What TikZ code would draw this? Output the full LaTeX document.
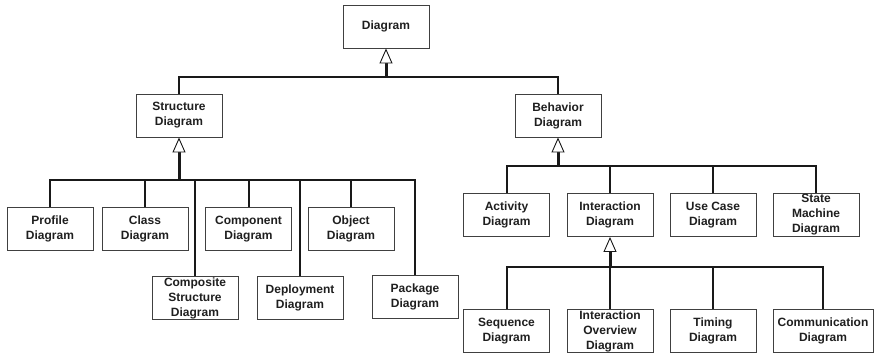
\documentclass[tikz,border=0pt]{standalone}
\usepackage{fontspec}
\setmainfont{Liberation Sans}
\usetikzlibrary{arrows.meta}
\begin{document}
\begin{tikzpicture}[x=1pt,y=-1pt,
  box/.style={draw=black!75, line width=0.9pt, fill=white, minimum width=86pt, minimum height=43pt,
    inner sep=1pt, align=center, font=\fontsize{12}{15}\selectfont\bfseries, text=black!88},
  link/.style={line width=2pt, draw=black!90},
  gen/.style={line width=3pt, draw=black!90, -{Triangle[open, length=15pt, width=13pt, line width=0.9pt, fill=white]}}]
\useasboundingbox (0,0) rectangle (874,354);
% nodes
\node[box] (diagram) at (386,26.5) {Diagram};
\node[box] (structure) at (179,115.5) {Structure\\Diagram};
\node[box] (behavior) at (558,115.5) {Behavior\\Diagram};
\node[box] (profile) at (50,229) {Profile\\Diagram};
\node[box] (class) at (145,229) {Class\\Diagram};
\node[box] (component) at (248.5,229) {Component\\Diagram};
\node[box] (object) at (351,229) {Object\\Diagram};
\node[box] (composite) at (195,298) {Composite\\Structure\\Diagram};
\node[box] (deployment) at (300,298) {Deployment\\Diagram};
\node[box] (package) at (415,297) {Package\\Diagram};
\node[box] (activity) at (506.5,215) {Activity\\Diagram};
\node[box] (interaction) at (610,215) {Interaction\\Diagram};
\node[box] (usecase) at (713,215) {Use Case\\Diagram};
\node[box] (statemachine) at (816,215) {State\\Machine\\Diagram};
\node[box] (sequence) at (506.5,331) {Sequence\\Diagram};
\node[box] (overview) at (610,331) {Interaction\\Overview\\Diagram};
\node[box] (timing) at (713,331) {Timing\\Diagram};
\node[box, minimum width=100pt] (communication) at (823,331) {Communication\\Diagram};
% junctions
\coordinate (tj) at (386,77);
\coordinate (sj) at (179,179.5);
\coordinate (bj) at (558,166);
\coordinate (ij) at (610,267);
% top level
\draw[link] (structure.north) |- (tj);
\draw[link] (behavior.north) |- (tj);
\draw[gen] (tj) -- (diagram.south);
% structure
\foreach \n in {profile,class,component,object,composite,deployment,package}
  \draw[link] (\n.north) |- (sj);
\draw[gen] (sj) -- (structure.south);
% behavior
\foreach \n in {activity,interaction,usecase,statemachine}
  \draw[link] (\n.north) |- (bj);
\draw[gen] (bj) -- (behavior.south);
% interaction
\foreach \n in {sequence,overview,timing,communication}
  \draw[link] (\n.north) |- (ij);
\draw[gen] (ij) -- (interaction.south);
\end{tikzpicture}
\end{document}
